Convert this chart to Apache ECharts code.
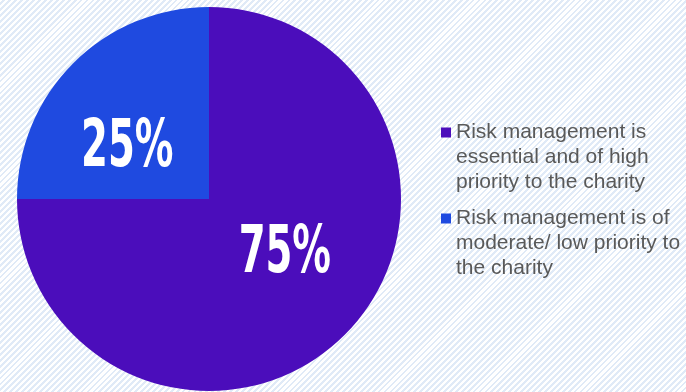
<!DOCTYPE html>
<html>
<head>
<meta charset="utf-8">
<script src="https://cdn.jsdelivr.net/npm/echarts@6/dist/echarts.min.js"></script>
<style>
  html, body { margin: 0; padding: 0; }
  body {
    width: 686px;
    height: 392px;
    background: repeating-linear-gradient(-45deg, #ffffff 0px, #ffffff 2.2px, #e0eaf7 2.2px, #e0eaf7 4.2px);
  }
  #chart { width: 686px; height: 392px; }
</style>
</head>
<body>
<div id="chart"></div>
<script>
// chart data
const categories = [
  'Risk management is essential and of high priority to the charity',
  'Risk management is of moderate/ low priority to the charity'
]
const legendLines = [
  ['Risk management is', 'essential and of high', 'priority to the charity'],
  ['Risk management is of', 'moderate/ low priority to', 'the charity']
]
const shares = [75, 25]
const colors = ['#4b0dbb', '#1f4ae0']

// nudges for the big percent labels, so they sit where the original has them
const labelShift = [[9, -14], [-18, 20]]

const chart = echarts.init(document.getElementById('chart'))

const option = {
  backgroundColor: 'transparent',
  animation: false,
  legend: {
    orient: 'vertical',
    left: 436,
    top: 65,
    itemWidth: 10,
    itemHeight: 10,
    itemGap: -39,
    icon: 'rect',
    data: categories,
    // two empty lines on top keep the icon level with the first text line
    formatter: name => ['', ''].concat(legendLines[categories.indexOf(name)]).join('\n'),
    textStyle: {
      fontFamily: '"Liberation Sans", Arial, sans-serif',
      fontSize: 21,
      lineHeight: 25,
      color: '#595959'
    }
  },
  series: [
    {
      type: 'pie',
      center: [209, 199],
      radius: [0, 192],
      startAngle: 90,
      clockwise: true,
      silent: true,
      data: categories.map((name, i) => ({
        name,
        value: shares[i],
        itemStyle: { color: colors[i] }
      })),
      label: {
        show: true,
        position: 'inside',
        formatter: '{c}%',
        color: '#ffffff',
        fontFamily: '"DejaVu Sans Condensed", "Liberation Sans", sans-serif',
        fontWeight: 'bold',
        fontSize: 66
      },
      labelLayout: params => ({ dx: labelShift[params.dataIndex][0], dy: labelShift[params.dataIndex][1] }),
      labelLine: { show: false }
    }
  ]
}

chart.setOption(option)

// squeeze the percent labels sideways, like the condensed face in the original
const pieData = chart.getModel().getSeriesByIndex(0).getData()
pieData.each(idx => {
  const el = pieData.getItemGraphicEl(idx)
  const txt = el && el.getTextContent()
  if (txt) {
    txt.scaleX = 0.65
    txt.markRedraw()
  }
})
</script>
</body>
</html>
